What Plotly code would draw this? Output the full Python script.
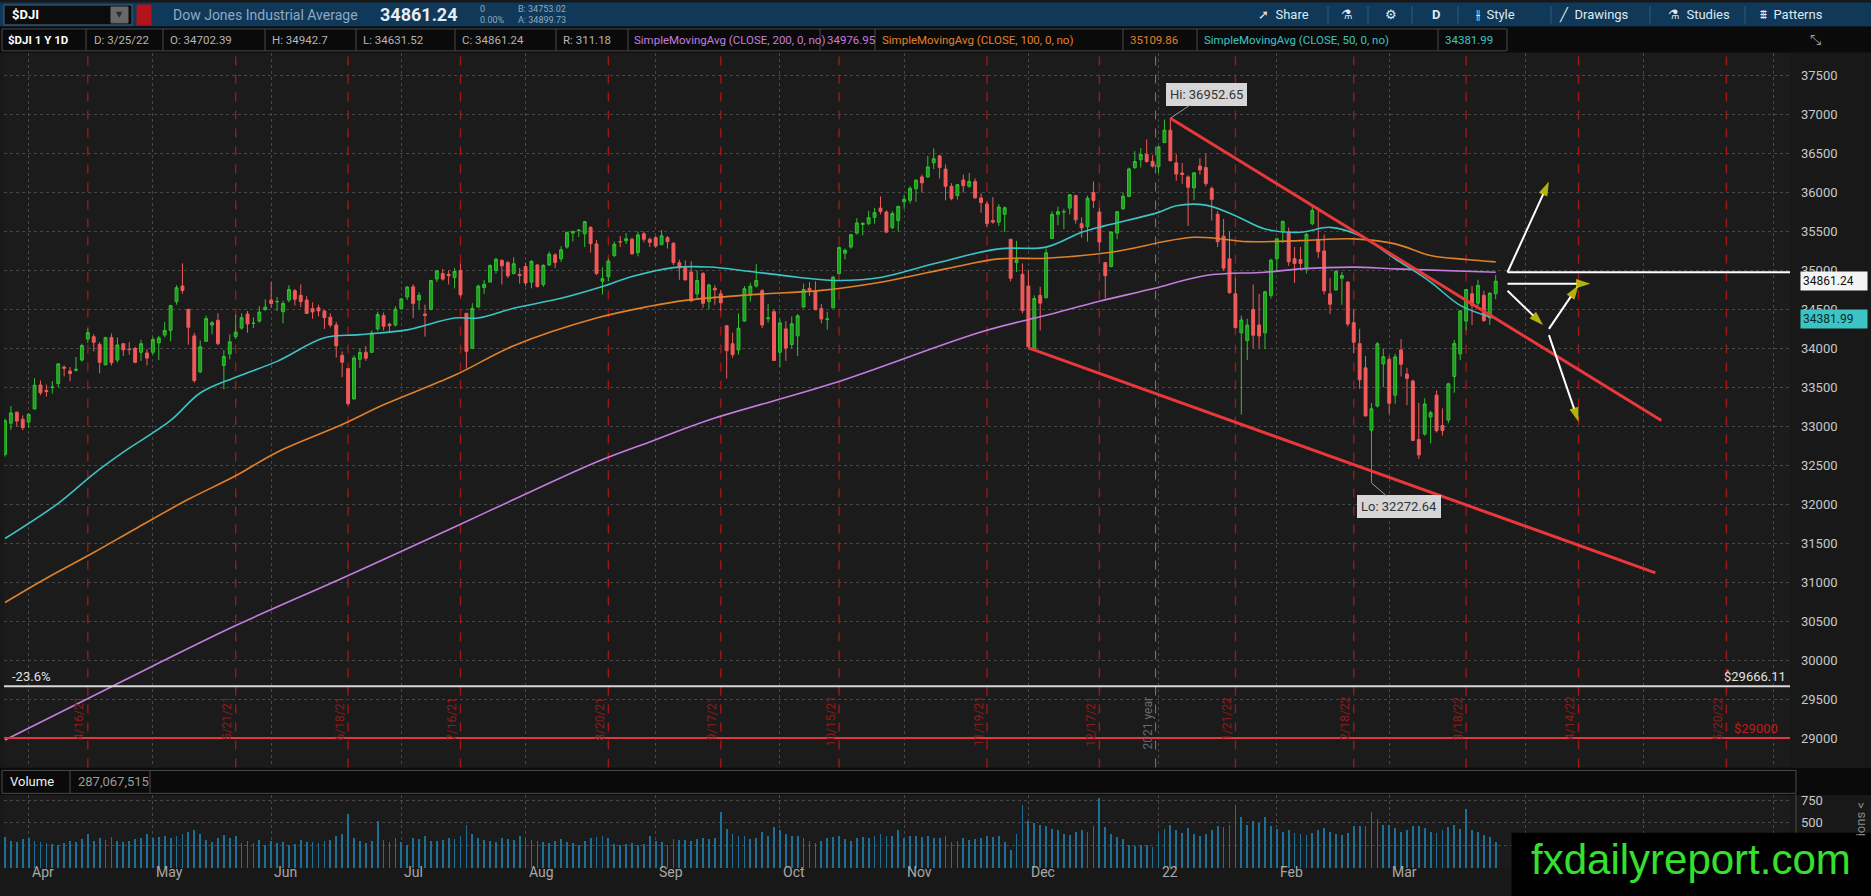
import pandas as pd
import plotly.graph_objects as go

W, H = 1871, 896
UI = "Roboto, Liberation Sans, Arial, sans-serif"

# trading days of the 1 year daily chart (exchange holidays removed)
holidays = ["2021-04-02", "2021-05-31", "2021-07-05", "2021-09-06", "2021-11-25",
            "2021-12-24", "2022-01-17", "2022-02-21", "2022-04-15"]
days = [d.strftime("%Y-%m-%d") for d in pd.bdate_range("2021-03-26", "2022-03-25")]
days = [d for d in days if d not in holidays]

opens = [
    32640, 33040, 33180, 33090,
    33055, 33222, 33530, 33460, 33500, 33550, 33760, 33710, 33720, 33850, 34120, 34150, 34050, 33790, 34140, 33850, 34060, 33990, 34000, 33950, 33940,
    33950, 34070, 34170, 34230, 34600, 34800, 34500, 34160, 33700, 34090, 34300, 34360, 33780, 33930, 34150, 34260, 34440, 34320, 34350, 34500,
    34620, 34600, 34470, 34620, 34740, 34680, 34620, 34510, 34520, 34480, 34400, 34300, 33910, 33740, 33350, 33860, 33950, 33950, 34250, 34420, 34310, 34300,
    34510, 34660, 34790, 34620, 34440, 34500, 34890, 34960, 34950, 34910, 35000, 34450, 34000, 34530, 34780, 34850, 35000, 35130, 35100, 34960, 34950,
    35050, 34850, 35070, 34820, 35070, 35200, 35150, 35300, 35480, 35510, 35470, 35550, 35340, 34860, 34920, 35190, 35370, 35380, 35400, 35230, 35470, 35400,
    35420, 35330, 35420, 35350, 35100, 35040, 34980, 34700, 34960, 34600, 34770, 34700, 34290, 34060, 33980, 34350, 34680, 34800, 34740, 34380, 34470,
    33950, 34250, 34050, 34160, 34530, 34770, 34730, 34510, 34370, 34520, 34960, 35220, 35300, 35480, 35590, 35600, 35680, 35800, 35750, 35550, 35640,
    35880, 35900, 36050, 36200, 36200, 36380, 36470, 36300, 36080, 35960, 36160, 36080, 36140, 35930, 35850, 35640, 35620, 35720, 35400, 35100, 34950,
    34800, 34000, 34680, 34650, 35410, 35720, 35750, 35800, 35960, 35600, 35560, 36000, 35750, 35100, 35050, 35480, 35790, 35950, 36320, 36420, 36490, 36400,
    36330, 36640, 36800, 36380, 36250, 36200, 36060, 36340, 36320, 36050, 35720, 35440, 35150, 34700, 34200, 34100, 34500, 34300, 34200, 34680,
    35150, 35500, 35480, 35150, 35140, 35030, 35600, 35400, 35250, 34700, 34750, 34900, 34850, 34330, 34060, 33750, 32950, 33260, 33800,
    33860, 33400, 33980, 33670, 33580, 32830, 32900, 33120, 33400, 33010, 33080, 33640, 33930, 34350, 34700, 34580, 34680, 34390, 34702.39,
]
highs = [
    33098, 33259, 33190, 33140,
    33167, 33617, 33588, 33535, 33580, 33810, 33780, 33760, 33890, 34060, 34256, 34180, 34080, 34150, 34190, 34140, 34070, 34080, 34020, 34110, 33990,
    34150, 34160, 34340, 34560, 34811, 35091, 34510, 34200, 34100, 34420, 34350, 34450, 33980, 34180, 34430, 34450, 34480, 34400, 34540, 34630,
    34850, 34660, 34610, 34810, 34760, 34820, 34670, 34590, 34560, 34490, 34450, 34340, 33960, 33740, 33910, 34000, 34030, 34230, 34470, 34460, 34330, 34540,
    34650, 34800, 34820, 34720, 34560, 34880, 35000, 35020, 35000, 35030, 35090, 34450, 34580, 34820, 34880, 35080, 35160, 35140, 35120, 35170, 35030,
    35100, 35130, 35080, 35080, 35240, 35220, 35310, 35500, 35510, 35530, 35630, 35570, 35390, 35040, 35150, 35370, 35440, 35480, 35420, 35500, 35500, 35420,
    35440, 35520, 35440, 35360, 35140, 35130, 35120, 35000, 34980, 34830, 34810, 34750, 34300, 34200, 34450, 34800, 34840, 35080, 34760, 34570, 34500,
    34380, 34350, 34410, 34440, 34830, 34850, 34860, 34570, 34470, 34930, 35310, 35280, 35470, 35670, 35620, 35765, 35800, 35950, 35770, 35760, 35830,
    35970, 36080, 36170, 36230, 36470, 36566, 36480, 36360, 36120, 36110, 36230, 36250, 36180, 35990, 35880, 35940, 35850, 35820, 35400, 35380, 35090,
    35000, 34680, 34790, 35280, 35760, 35820, 35790, 35980, 35970, 35680, 35960, 36140, 35800, 35110, 35500, 35760, 36000, 36320, 36530, 36570, 36680, 36480,
    36600, 36935, 36952.65, 36490, 36380, 36220, 36260, 36440, 36500, 36080, 35760, 35660, 35500, 34900, 34420, 34380, 34820, 34700, 34740, 35150,
    35420, 35640, 35550, 35300, 35300, 35480, 35830, 35810, 35460, 34900, 35000, 34980, 34860, 34500, 34250, 33900, 33300, 34080, 34000,
    33900, 33930, 34120, 33750, 33600, 33300, 33360, 33200, 33460, 33230, 33560, 34110, 34490, 34760, 34800, 34880, 34740, 34720, 34942.7,
]
lows = [
    32612, 32954, 32998, 32950,
    32978, 33222, 33399, 33380, 33420, 33500, 33640, 33580, 33700, 33830, 34070, 33960, 33680, 33780, 33780, 33820, 33900, 33920, 33810, 33840, 33780,
    33920, 33850, 34140, 34090, 34560, 34700, 34050, 33560, 33680, 34090, 34180, 34040, 33474, 33860, 34120, 34240, 34200, 34260, 34330, 34480,
    34520, 34480, 34320, 34590, 34550, 34530, 34440, 34380, 34410, 34250, 34270, 33880, 33630, 33271, 33350, 33750, 33840, 33940, 34220, 34230, 34200, 34280,
    34510, 34620, 34390, 34500, 34150, 34490, 34850, 34870, 34820, 34770, 34660, 33741, 34000, 34520, 34700, 34850, 34960, 34820, 34900, 34950, 34830,
    34800, 34770, 34780, 34790, 35060, 35030, 35110, 35280, 35370, 35430, 35300, 35230, 34940, 34690, 34860, 35170, 35300, 35340, 35200, 35180, 35360, 35300,
    35290, 35330, 35280, 35070, 34880, 34870, 34600, 34640, 34520, 34500, 34560, 34480, 33613, 33880, 33920, 34340, 34600, 34780, 34260, 34330, 33840,
    33760, 33840, 34000, 33900, 34520, 34670, 34490, 34320, 34240, 34520, 34960, 35140, 35280, 35460, 35450, 35580, 35600, 35720, 35490, 35530, 35500,
    35790, 35860, 35880, 36000, 36190, 36300, 36180, 35900, 35900, 35910, 36000, 36060, 35920, 35740, 35560, 35600, 35570, 35490, 34860, 34980, 34450,
    34006, 33990, 34230, 34640, 35410, 35580, 35530, 35720, 35600, 35420, 35370, 35800, 35240, 34640, 35040, 35400, 35780, 35940, 36300, 36320, 36380, 36320,
    36250, 36640, 36400, 36150, 36110, 35570, 35900, 36230, 36080, 35640, 35300, 35000, 34700, 34260, 33150, 33850, 34000, 34000, 33990, 34640,
    34980, 35350, 35060, 34840, 35030, 34960, 35580, 35160, 34690, 34440, 34740, 34560, 34280, 33940, 33480, 33130, 32272.64, 33240, 33500,
    33160, 33290, 33640, 33270, 32810, 32580, 32880, 32780, 32920, 32880, 33040, 33430, 33850, 34230, 34300, 34540, 34340, 34300, 34631.52,
]
closes = [
    33072, 33171, 33067, 32982,
    33153, 33527, 33430, 33446, 33503, 33801, 33746, 33677, 33731, 34036, 34201, 34078, 33821, 34137, 33816, 34043, 33982, 33985, 33821, 34060, 33875,
    34113, 34133, 34230, 34548, 34778, 34743, 34270, 33587, 34021, 34382, 34328, 34061, 33896, 34084, 34208, 34394, 34313, 34323, 34465, 34529,
    34575, 34600, 34577, 34756, 34630, 34600, 34448, 34467, 34480, 34394, 34299, 34033, 33823, 33290, 33877, 33946, 33874, 34196, 34433, 34283, 34292, 34503,
    34634, 34786, 34577, 34681, 34422, 34870, 34996, 34889, 34933, 34987, 34688, 33962, 34512, 34798, 34823, 35062, 35144, 35059, 34931, 35085, 34935,
    34838, 35117, 34793, 35065, 35209, 35102, 35265, 35485, 35500, 35516, 35626, 35343, 34961, 34894, 35120, 35336, 35367, 35406, 35214, 35456, 35400, 35361,
    35313, 35444, 35369, 35100, 35031, 34879, 34608, 34870, 34578, 34814, 34751, 34585, 33970, 33919, 34258, 34765, 34798, 34870, 34300, 34390, 33844,
    34326, 34003, 34315, 34417, 34755, 34746, 34496, 34378, 34377, 34913, 35295, 35259, 35458, 35610, 35603, 35677, 35741, 35757, 35491, 35731, 35820,
    35913, 36053, 36158, 36124, 36328, 36432, 36320, 36080, 35921, 36100, 36087, 36143, 35931, 35871, 35602, 35620, 35814, 35804, 34899, 35136, 34484,
    34022, 34640, 34580, 35227, 35720, 35754, 35754, 35971, 35650, 35545, 35927, 35898, 35365, 34932, 35493, 35754, 35951, 36302, 36398, 36488, 36398, 36338,
    36585, 36800, 36408, 36236, 36232, 36068, 36252, 36290, 36114, 35912, 35369, 35029, 34715, 34265, 34365, 34298, 34168, 34160, 34725, 35132,
    35405, 35629, 35111, 35089, 35091, 35463, 35768, 35242, 34738, 34566, 34989, 34934, 34312, 34079, 33597, 33132, 33224, 34059, 33893,
    33295, 33891, 33795, 33615, 32818, 32633, 33286, 33174, 32944, 32945, 33545, 34063, 34481, 34755, 34553, 34808, 34358, 34708, 34861.24,
]
# volume, millions
volumes = [
    340, 300, 290, 320,
    330, 300, 290, 280, 270, 260, 280, 300, 290, 320, 380, 300, 330, 310, 340, 300, 290, 300, 320, 330, 380,
    330, 340, 350, 330, 350, 380, 400, 420, 380, 310, 290, 330, 370, 330, 350, 280, 300, 280, 310, 250,
    300, 280, 290, 260, 270, 310, 290, 290, 280, 300, 310, 360, 380, 600, 330, 300, 280, 300, 520, 310, 290, 330,
    290, 260, 330, 320, 360, 300, 300, 310, 330, 320, 350, 480, 380, 330, 310, 300, 290, 330, 320, 310, 350,
    330, 310, 300, 290, 280, 300, 320, 290, 280, 260, 300, 330, 340, 360, 330, 270, 260, 270, 280, 260, 270, 350,
    300, 290, 260, 320, 310, 310, 300, 320, 330, 320, 330, 620, 430, 380, 360, 350, 320, 330, 400, 350, 450,
    420, 380, 350, 360, 330, 300, 280, 300, 330, 340, 350, 320, 300, 330, 340, 330, 360, 380, 350, 350, 420,
    330, 350, 360, 340, 350, 330, 330, 360, 290, 300, 330, 310, 320, 330, 360, 340, 350, 290, 200, 380, 700,
    520, 500, 480, 460, 430, 420, 380, 370, 400, 420, 400, 470, 780, 450, 380, 340, 320, 250, 240, 260, 250, 230,
    380, 430, 480, 420, 390, 440, 380, 360, 380, 420, 460, 450, 480, 700, 560, 480, 520, 500, 560, 470,
    430, 400, 420, 390, 380, 370, 390, 420, 440, 400, 380, 370, 390, 460, 470, 460, 620, 540, 480,
    480, 440, 400, 420, 470, 460, 440, 400, 390, 420, 450, 480, 430, 650, 420, 400, 370, 340, 287.07,
]

sma200_dates = ["2021-03-26", "2021-04-22", "2021-05-21", "2021-06-17", "2021-07-15", "2021-07-29",
                "2021-08-18", "2021-08-31", "2021-09-15", "2021-10-14", "2021-11-18", "2021-12-06",
                "2021-12-17", "2021-12-31", "2022-01-13", "2022-01-28", "2022-02-07", "2022-02-18",
                "2022-03-02", "2022-03-25"]
sma200_vals = [28975, 29659, 30443, 31051, 31709, 32060, 32542, 32800, 33081, 33551, 34210, 34424,
               34604, 34765, 34936, 34977, 35020, 35043, 35020, 34976.95]

sma100_dates = ["2021-03-26", "2021-04-07", "2021-04-19", "2021-04-28", "2021-05-11", "2021-05-21",
                "2021-06-02", "2021-06-17", "2021-06-28", "2021-07-15", "2021-07-29", "2021-08-18",
                "2021-08-31", "2021-09-09", "2021-09-24", "2021-10-12", "2021-10-26", "2021-11-10",
                "2021-11-23", "2021-12-06", "2021-12-21", "2022-01-11", "2022-01-25", "2022-02-07",
                "2022-02-18", "2022-03-02", "2022-03-10", "2022-03-18", "2022-03-25"]
sma100_vals = [30740, 31051, 31381, 31683, 32063, 32365, 32668, 33023, 33276, 33654, 34034, 34389,
               34540, 34616, 34688, 34744, 34849, 35020, 35148, 35156, 35234, 35425, 35370, 35382,
               35405, 35341, 35191, 35141, 35109.86]

sma50_dates = ["2021-03-26", "2021-04-09", "2021-04-19", "2021-04-26", "2021-05-06", "2021-05-13",
               "2021-05-21", "2021-06-02", "2021-06-14", "2021-06-22", "2021-07-02", "2021-07-15",
               "2021-07-21", "2021-07-29", "2021-08-10", "2021-08-19", "2021-08-26", "2021-09-07",
               "2021-09-15", "2021-09-24", "2021-10-06", "2021-10-15", "2021-10-26", "2021-11-08",
               "2021-11-23", "2021-12-06", "2021-12-14", "2021-12-20", "2022-01-03", "2022-01-06",
               "2022-01-13", "2022-01-21", "2022-01-28", "2022-02-07", "2022-02-14", "2022-02-22",
               "2022-03-02", "2022-03-10", "2022-03-17", "2022-03-25"]
sma50_vals = [31560, 32012, 32391, 32668, 33075, 33427, 33630, 33833, 34135, 34176, 34237, 34389,
              34389, 34515, 34642, 34793, 34921, 35036, 35044, 34987, 34913, 34870, 34909, 35085,
              35277, 35299, 35489, 35575, 35745, 35830, 35838, 35702, 35531, 35490, 35553, 35447,
              35150, 34851, 34552, 34381.99]

# drawings
upper_line_dates = ["2022-01-05", "2022-05-05"]
upper_line_vals = [36952.65, 33075]
lower_line_dates = ["2021-12-01", "2022-05-04"]
lower_line_vals = [34006, 31120]
arrows = [  # (tail date, tail price, tip date, tip price)
    ("2022-03-29", 34977, "2022-04-07", 36140),
    ("2022-03-29", 34830, "2022-04-19", 34830),
    ("2022-03-29", 34740, "2022-04-06", 34300),
    ("2022-04-07", 34250, "2022-04-14", 34810),
    ("2022-04-07", 34170, "2022-04-14", 33060),
]
resistance_level = 34976.95
fib_level = 29666.11
target_level = 29000

expiry_dates = ["2021-04-16", "2021-05-21", "2021-06-18", "2021-07-16", "2021-08-20", "2021-09-17",
                "2021-10-15", "2021-11-19", "2021-12-17", "2022-01-21", "2022-02-18", "2022-03-18",
                "2022-04-14", "2022-05-20"]
expiry_labels = ["4/16/21", "5/21/21", "6/18/21", "7/16/21", "8/20/21", "9/17/21", "10/15/21",
                 "11/19/21", "12/17/21", "1/21/22", "2/18/22", "3/18/22", "4/14/22", "5/20/22"]
month_starts = ["2021-04-01", "2021-05-03", "2021-06-01", "2021-07-01", "2021-08-02", "2021-09-01",
                "2021-10-01", "2021-11-01", "2021-12-01", "2022-01-03", "2022-02-01", "2022-03-01",
                "2022-04-01", "2022-05-02", "2022-06-01"]
month_labels = ["Apr", "May", "Jun", "Jul", "Aug", "Sep", "Oct", "Nov", "Dec", "22", "Feb", "Mar"]
price_ticks = [29000, 29500, 30000, 30500, 31000, 31500, 32000, 32500, 33000, 33500, 34000,
               34500, 35000, 35500, 36000, 36500, 37000, 37500]
volume_ticks = [250, 500, 750]


def px(x):
    return x / W


def py(y):
    return 1 - y / H


fig = go.Figure()

fig.add_trace(go.Bar(x=days, y=volumes, xaxis="x2", yaxis="y2", width=0.3 * 86400000,
                     marker=dict(color="#1e6f96", line=dict(width=0)), hoverinfo="none"))

fig.add_trace(go.Scatter(x=sma200_dates, y=sma200_vals, mode="lines", line_shape="spline",
                         line=dict(color="#c47ddf", width=1.6), hoverinfo="none"))
fig.add_trace(go.Scatter(x=sma100_dates, y=sma100_vals, mode="lines", line_shape="spline",
                         line=dict(color="#e0812a", width=1.6), hoverinfo="none"))
fig.add_trace(go.Scatter(x=sma50_dates, y=sma50_vals, mode="lines", line_shape="spline",
                         line=dict(color="#3cc4c4", width=1.6), hoverinfo="none"))

fig.add_trace(go.Candlestick(
    x=days, open=opens, high=highs, low=lows, close=closes, whiskerwidth=0,
    increasing=dict(line=dict(color="#2fc22f", width=1), fillcolor="#1f9b1f"),
    decreasing=dict(line=dict(color="#f05a5a", width=1), fillcolor="#f05a5a"),
    hoverinfo="none"))

for xs, ys in [(upper_line_dates, upper_line_vals), (lower_line_dates, lower_line_vals)]:
    fig.add_trace(go.Scatter(x=xs, y=ys, mode="lines", line=dict(color="#e8383c", width=3),
                             hoverinfo="none"))

for t0, p0, t1, p1 in arrows:
    fig.add_trace(go.Scatter(
        x=[t0, t1], y=[p0, p1], mode="lines+markers", line=dict(color="#ffffff", width=2),
        marker=dict(symbol="arrow", angleref="previous", size=[0, 15], color="#f2f20a",
                    line=dict(width=0)),
        hoverinfo="none"))

# horizontal levels
fig.add_shape(type="line", xref="x domain", yref="y", x0=0, x1=1, y0=fib_level, y1=fib_level,
              line=dict(color="#d8d8d8", width=2))
fig.add_shape(type="line", xref="x domain", yref="y", x0=0, x1=1, y0=target_level, y1=target_level,
              line=dict(color="#e0383c", width=2))
fig.add_shape(type="line", xref="x", yref="y", x0="2022-03-29", x1="2022-06-03 18:00",
              y0=resistance_level, y1=resistance_level, line=dict(color="#ffffff", width=2))

# option expiration markers
for d, lab in zip(expiry_dates, expiry_labels):
    fig.add_shape(type="line", xref="x", yref="y domain", x0=d, x1=d, y0=0, y1=1,
                  line=dict(color="#a31616", width=1.4, dash="dash"), layer="below")
    fig.add_annotation(x=d, y=29560, xref="x", yref="y", text=lab, showarrow=False, textangle=-90,
                       xanchor="right", yanchor="top", xshift=1,
                       font=dict(family=UI, size=12, color="#8e1c1c"))
fig.add_shape(type="line", xref="x", yref="y domain", x0="2021-12-31 12:00", x1="2021-12-31 12:00",
              y0=0, y1=1, line=dict(color="#6e6e6e", width=1.2, dash="dash"), layer="below")
fig.add_annotation(x="2021-12-31 12:00", y=29560, xref="x", yref="y", text="2021 year",
                   showarrow=False, textangle=-90, xanchor="right", yanchor="top", xshift=1,
                   font=dict(family=UI, size=12, color="#6a6a6a"))

fig.add_annotation(x=px(10), y=fib_level, xref="paper", yref="y", text="-23.6%", showarrow=False,
                   xanchor="left", yanchor="bottom", font=dict(family=UI, size=13, color="#e0e0e0"))
fig.add_annotation(x=px(1788), y=fib_level, xref="paper", yref="y", text="$29666.11", showarrow=False,
                   xanchor="right", yanchor="bottom", font=dict(family=UI, size=13, color="#e0e0e0"))
fig.add_annotation(x=px(1780), y=target_level, xref="paper", yref="y", text="$29000", showarrow=False,
                   xanchor="right", yanchor="bottom", font=dict(family=UI, size=13, color="#b82020"))

# hi / lo bubbles
fig.add_annotation(x="2022-01-05", y=36952.65, text="Hi: 36952.65", showarrow=True, arrowhead=0,
                   arrowcolor="#9a9a9a", arrowwidth=1, ax=36, ay=-24, bgcolor="#d6d6d6",
                   bordercolor="#d6d6d6", borderpad=3, font=dict(family=UI, size=13, color="#333333"))
fig.add_annotation(x="2022-02-24", y=32272.64, text="Lo: 32272.64", showarrow=True, arrowhead=0,
                   arrowcolor="#9a9a9a", arrowwidth=1, ax=28, ay=24, bgcolor="#d6d6d6",
                   bordercolor="#d6d6d6", borderpad=3, font=dict(family=UI, size=13, color="#333333"))

# price bubbles on the axis
fig.add_annotation(x=px(1800), y=closes[-1], xref="paper", yref="y", text="34861.24", showarrow=False,
                   xanchor="left", bgcolor="#f4f4f4", borderpad=2, width=62, align="left",
                   font=dict(family=UI, size=12, color="#111111"))
fig.add_annotation(x=px(1800), y=sma50_vals[-1], xref="paper", yref="y", text="34381.99",
                   showarrow=False, xanchor="left", bgcolor="#3cc4c4", borderpad=2, width=62,
                   align="left", font=dict(family=UI, size=12, color="#0c2a2a"))

# month labels
for d, lab in zip(month_starts, month_labels):
    fig.add_annotation(x=d, y=py(882), xref="x2", yref="paper", text=lab, showarrow=False,
                       xanchor="left", xshift=1, font=dict(family=UI, size=14, color="#a8a8a8"))

# ---- chrome: header bars ----
def box(x0, y0, x1, y1, fill, line=None):
    fig.add_shape(type="rect", xref="paper", yref="paper", x0=px(x0), x1=px(x1), y0=py(y1), y1=py(y0),
                  fillcolor=fill, line=dict(color=line or fill, width=1), layer="above")


def vline(x, y0, y1, color):
    fig.add_shape(type="line", xref="paper", yref="paper", x0=px(x), x1=px(x), y0=py(y1), y1=py(y0),
                  line=dict(color=color, width=1), layer="above")


def txt(x, y, s, color, size=13, anchor="left", family=UI):
    fig.add_annotation(x=px(x), y=py(y), xref="paper", yref="paper", text=s, showarrow=False,
                       xanchor=anchor, yanchor="middle", font=dict(family=family, size=size, color=color))


box(0, 0, W, 24, "#0f3859")
box(4, 2, 132, 22, "#0c0c0c", "#46627a")
box(111, 4, 128, 20, "#686868")
txt(119.5, 12, "▼", "#2a2a2a", 8, "center", "DejaVu Sans")
box(137, 2, 151, 22, "#b3141b")
txt(10, 12, "<b>$DJI</b>", "#ffffff", 13)
txt(171, 12, "Dow Jones Industrial Average", "#8fa9c0", 14)
txt(378, 12, "<b>34861.24</b>", "#e6edf2", 18)
txt(478, 6, "0", "#8fa9c0", 9)
txt(478, 17, "0.00%", "#8fa9c0", 9)
txt(516, 6, "B: 34753.02", "#8fa9c0", 9)
txt(516, 17, "A: 34899.73", "#8fa9c0", 9)

top_items = [(1256, "➚  Share"), (1339, "⚗"), (1383, "⚙"), (1430, "<b>D</b>"), (1474, "⫲  Style"),
             (1557, "╱  Drawings"), (1666, "⚗  Studies"), (1758, "⩩  Patterns")]
for x, s in top_items:
    txt(x, 12, s, "#dfe8ef", 13)
for x in [1328, 1368, 1412, 1458, 1551, 1650, 1745]:
    vline(x, 3, 21, "#2f5c80")

box(0, 24, W, 49, "#0a0a0a")
box(2, 26, 1507, 48, "#0a0a0a", "#4a4a4a")
for x in [86, 163, 265, 356, 455, 556, 628, 820, 875, 1123, 1197, 1438]:
    vline(x, 26, 48, "#4a4a4a")
info_items = [(6, "<b>$DJI 1 Y 1D</b>", "#ffffff"), (92, "D: 3/25/22", "#b5b5b5"),
              (168, "O: 34702.39", "#b5b5b5"), (270, "H: 34942.7", "#b5b5b5"),
              (361, "L: 34631.52", "#b5b5b5"), (460, "C: 34861.24", "#b5b5b5"),
              (561, "R: 311.18", "#b5b5b5"),
              (632, "SimpleMovingAvg (CLOSE, 200, 0, no)", "#c47ddf"), (825, "34976.95", "#c47ddf"),
              (880, "SimpleMovingAvg (CLOSE, 100, 0, no)", "#e0812a"), (1128, "35109.86", "#e0812a"),
              (1202, "SimpleMovingAvg (CLOSE, 50, 0, no)", "#3cc4c4"), (1443, "34381.99", "#3cc4c4")]
for x, s, c in info_items:
    txt(x, 37, s, c, 11.5)
txt(1815, 37, "⤡", "#9a9a9a", 14, "center", "DejaVu Sans")

# volume header
box(0, 768, W, 794, "#0a0a0a")
box(2, 770, 1796, 793, "#0a0a0a", "#4a4a4a")
vline(70, 770, 793, "#4a4a4a")
vline(150, 770, 793, "#4a4a4a")
txt(8, 781.5, "Volume", "#f0f0f0", 13)
txt(76, 781.5, "287,067,515", "#9a9a9a", 13)
vline(1796, 794, 869, "#4a4a4a")
fig.add_annotation(x=px(1860), y=py(800), xref="paper", yref="paper", text="ions <", showarrow=False,
                   textangle=-90, xanchor="center", yanchor="top",
                   font=dict(family=UI, size=13, color="#8a8a8a"))

# watermark
box(1512, 833, W, H, "#000000")
txt(1691, 859, "fxdailyreport.com", "#35e02f", 42, "center", "Liberation Sans, Arial, sans-serif")

rb = [dict(bounds=["sat", "mon"]), dict(values=holidays)]
xcommon = dict(domain=[px(4), px(1790)], range=["2021-03-25 20:00", "2022-06-03 18:00"],
               rangebreaks=rb, tickvals=month_starts, showticklabels=False, ticks="",
               showgrid=True, gridcolor="#474747", griddash="dot", gridwidth=1, zeroline=False,
               showline=False)

fig.update_layout(
    width=W, height=H, margin=dict(l=0, r=0, t=0, b=0),
    paper_bgcolor="#181818", plot_bgcolor="#1b1b1b",
    showlegend=False, hovermode=False, dragmode=False, bargap=0,
    xaxis=dict(anchor="y", rangeslider=dict(visible=False), **xcommon),
    xaxis2=dict(anchor="y2", matches="x", **xcommon),
    yaxis=dict(domain=[py(767), py(50)], range=[28623, 37792], side="right", anchor="x",
               tickvals=price_ticks, tickformat="d", ticks="", ticklabelstandoff=10,
               tickfont=dict(family=UI, size=13, color="#c8c8c8"),
               showgrid=True, gridcolor="#474747", griddash="dot", zeroline=False),
    yaxis2=dict(domain=[py(868), py(795)], range=[0, 804], side="right", anchor="x2",
                tickvals=volume_ticks, tickformat="d", ticks="", ticklabelstandoff=10,
                tickfont=dict(family=UI, size=13, color="#c8c8c8"),
                showgrid=True, gridcolor="#474747", griddash="dot", zeroline=False),
)

fig.write_html("out.html", config={"displayModeBar": False, "staticPlot": True},
               post_script="document.body.style.margin='0';document.body.style.overflow='hidden';")
